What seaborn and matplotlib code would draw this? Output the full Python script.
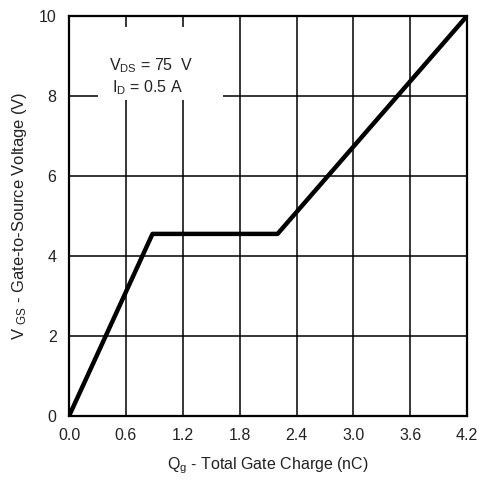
import matplotlib
matplotlib.use("Agg")
import matplotlib.pyplot as plt
import seaborn as sns
import pandas as pd
from matplotlib.patches import Rectangle

# Data
qg_nc = [0.0, 0.88, 2.2, 4.2]
vgs_v = [0.0, 4.55, 4.55, 10.0]
x_ticks = [0.0, 0.6, 1.2, 1.8, 2.4, 3.0, 3.6, 4.2]
x_tick_labels = ["0.0", "0.6", "1.2", "1.8", "2.4", "3.0", "3.6", "4.2"]
y_ticks = [0, 2, 4, 6, 8, 10]
y_tick_labels = ["0", "2", "4", "6", "8", "10"]

sns.set_style("white")
plt.rcParams['font.family'] = ['Liberation Sans', 'DejaVu Sans']
plt.rcParams['mathtext.fontset'] = 'custom'
plt.rcParams['mathtext.rm'] = 'Liberation Sans'
plt.rcParams['mathtext.it'] = 'Liberation Sans'
plt.rcParams['mathtext.default'] = 'regular'

df = pd.DataFrame({"Qg": qg_nc, "Vgs": vgs_v})

fig = plt.figure(figsize=(4.8, 4.83), dpi=100)
ax = fig.add_axes([0.144, 0.139, 0.829, 0.828])

sns.lineplot(data=df, x="Qg", y="Vgs", ax=ax, color="black", linewidth=3.2,
             sort=False, zorder=5)

ax.set_xlim(0, 4.2)
ax.set_ylim(0, 10)
ax.set_xticks(x_ticks)
ax.set_xticklabels(x_tick_labels)
ax.set_yticks(y_ticks)
ax.set_yticklabels(y_tick_labels)
ax.grid(True, color="black", linewidth=1.1)
ax.set_axisbelow(True)
ax.tick_params(axis="both", length=0, pad=9, labelsize=11.5, labelcolor="#222222")
for s in ax.spines.values():
    s.set_color("black")
    s.set_linewidth(1.6)

ax.set_xlabel(r"Q$_{g}$ - Total Gate Charge (nC)", fontsize=11.5, color="#222222", labelpad=9)
ax.set_ylabel(r"V $_{GS}$ - Gate-to-Source Voltage (V)", fontsize=11.9, color="#222222", labelpad=7)

# white box behind annotation
ax.add_patch(Rectangle((0.31, 7.9), 1.31, 1.83, facecolor="white", edgecolor="none", zorder=3))
ax.text(0.42, 8.75, r"V$_{DS}$ = 75  V", fontsize=11.5, color="#222222", va="center", ha="left", zorder=4)
ax.text(0.45, 8.2, r"I$_{D}$ = 0.5 A", fontsize=11.5, color="#222222", va="center", ha="left", zorder=4)

fig.savefig("out.png", dpi=100)
